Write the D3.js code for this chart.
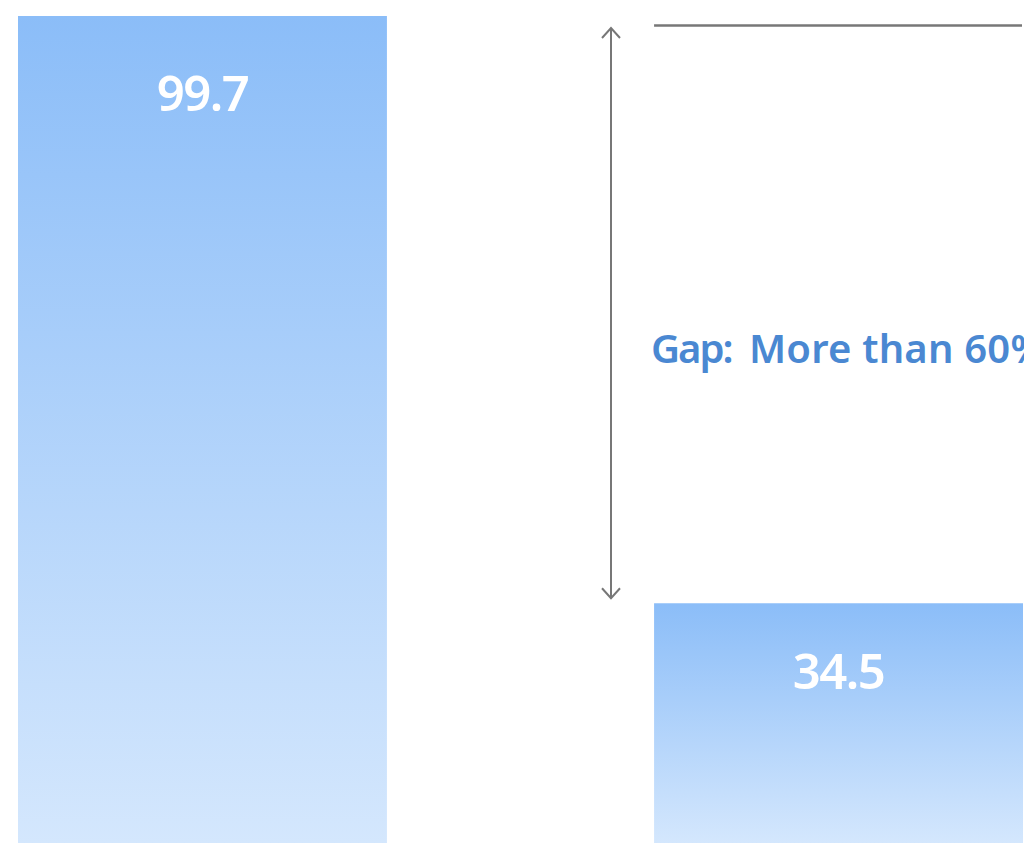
<!DOCTYPE html>
<html>
<head>
<meta charset="utf-8">
<script src="https://cdn.jsdelivr.net/npm/d3@7"></script>
<style>
  body { margin: 0; background: #fff; overflow: hidden; }
</style>
</head>
<body>
<div id="chart"></div>
<script>
// data
var categories = ["A", "B"];
var values = [99.7, 34.5];
var gapLabel = "Gap:";
var gapText = "More than 60%";

var width = 1024, height = 843;

var svg = d3.select("#chart")
  .append("svg")
    .attr("width", width)
    .attr("height", height)
    .style("display", "block");

// gradient for the bars
var grad = svg.append("defs").append("linearGradient")
    .attr("id", "barGrad")
    .attr("x1", 0).attr("y1", 0).attr("x2", 0).attr("y2", 1);
grad.append("stop").attr("offset", "0%").attr("stop-color", "#8bbdf8");
grad.append("stop").attr("offset", "100%").attr("stop-color", "#d4e7fd");

// x scale: two bands, the second one runs to the right edge
var x = d3.scaleBand()
  .domain(categories)
  .range([18, 1023])
  .paddingInner(0.42)
  .paddingOuter(0);

// y scale: baseline sits below the visible area
var y = d3.scaleLinear()
  .domain([0, 100])
  .range([914, 13.3]);

// label offsets from the bar top
var labelOffset = [95, 86];

// bars
svg.selectAll(".bar")
  .data(values)
  .enter().append("rect")
    .attr("class", "bar")
    .attr("x", function(d, i) { return x(categories[i]); })
    .attr("y", function(d) { return y(d); })
    .attr("width", x.bandwidth())
    .attr("height", function(d) { return height - y(d); })
    .attr("fill", "url(#barGrad)");

// value labels
svg.selectAll(".val")
  .data(values)
  .enter().append("text")
    .attr("class", "val")
    .attr("x", function(d, i) { return x(categories[i]) + x.bandwidth() / 2; })
    .attr("y", function(d, i) { return y(d) + labelOffset[i]; })
    .attr("text-anchor", "middle")
    .attr("fill", "#fff")
    .style("font-family", "'Noto Sans', sans-serif")
    .style("font-weight", 600)
    .style("font-size", "49px")
    .style("letter-spacing", "-1.5px")
    .text(function(d) { return d.toFixed(1); });

var x2 = x(categories[1]);

// reference line at the level of the first bar
svg.append("line")
  .attr("x1", x2).attr("x2", 1022)
  .attr("y1", y(values[0]) + 9.5).attr("y2", y(values[0]) + 9.5)
  .attr("stroke", "#777")
  .attr("stroke-width", 2.5);

// double arrow between the two levels
var ax = 611,
    ay1 = y(values[0]) + 12,
    ay2 = y(values[1]) - 5;
var arrow = svg.append("g")
  .attr("fill", "none")
  .attr("stroke", "#777")
  .attr("stroke-width", 2);
arrow.append("line")
  .attr("x1", ax).attr("x2", ax)
  .attr("y1", ay1).attr("y2", ay2);
arrow.append("path")
  .attr("d", "M" + (ax - 9) + "," + (ay1 + 10) + "L" + ax + "," + ay1 + "L" + (ax + 9) + "," + (ay1 + 10));
arrow.append("path")
  .attr("d", "M" + (ax - 9) + "," + (ay2 - 10) + "L" + ax + "," + ay2 + "L" + (ax + 9) + "," + (ay2 - 10));

// gap text
var gt = svg.append("text")
  .attr("y", 363)
  .attr("fill", "#4a88d2")
  .style("font-family", "'Noto Sans', sans-serif")
  .style("font-weight", 600)
  .style("font-size", "40px");
gt.append("tspan")
  .attr("x", 651)
  .style("letter-spacing", "-2px")
  .text(gapLabel);
gt.append("tspan")
  .attr("x", 749)
  .style("letter-spacing", "0.2px")
  .style("word-spacing", "0px")
  .text(gapText);
</script>
</body>
</html>
